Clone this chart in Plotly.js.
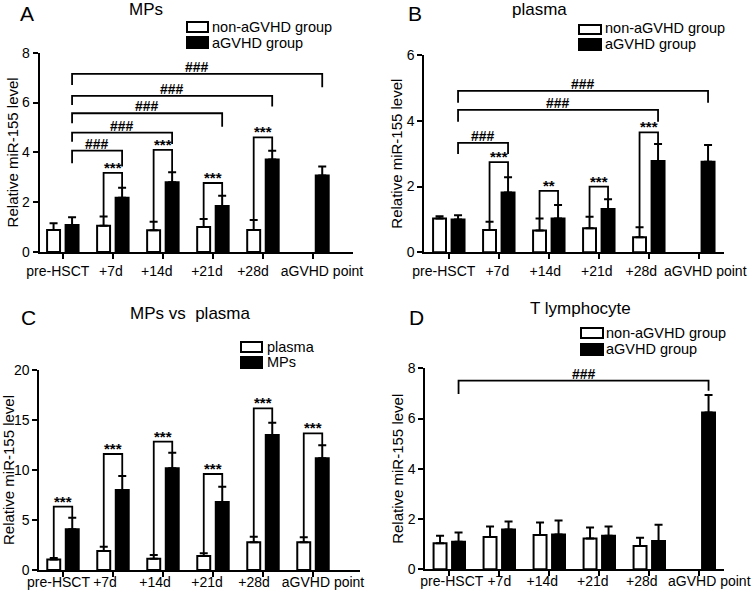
<!DOCTYPE html>
<html><head><meta charset="utf-8">
<script src="https://cdn.plot.ly/plotly-3.0.1.min.js"></script>
<style>html,body{margin:0;padding:0;background:#fff}#chart{width:753px;height:592px}</style>
</head><body><div id="chart"></div>
<script>
// ---------- DATA ----------
const categories = ['pre-HSCT', '+7d', '+14d', '+21d', '+28d', 'aGVHD point'];

// Panel A: MPs
const mpsNon = [0.88, 1.05, 0.87, 1.00, 0.88, null];
const mpsNonErr = [0.27, 0.37, 0.34, 0.32, 0.40, null];
const mpsAg = [1.08, 2.18, 2.80, 1.85, 3.71, 3.07];
const mpsAgErr = [0.31, 0.40, 0.40, 0.41, 0.35, 0.36];
const mpsStarCats = [1, 2, 3, 4];
const mpsStarTops = [3.18, 4.10, 2.77, 4.60];
const mpsStarLabels = ['***', '***', '***', '***'];
const mpsHashCats = [1, 2, 3, 4, 5];
const mpsHashTops = [4.07, 4.79, 5.57, 6.27, 7.15];
const mpsHashLeftBottoms = [3.56, 4.43, 5.17, 5.90, 6.70];
const mpsHashRightBottoms = [3.43, 4.34, 5.03, 5.84, 6.61];

// Panel B: plasma
const plaNon = [1.03, 0.68, 0.66, 0.73, 0.46, null];
const plaNonErr = [0.07, 0.25, 0.37, 0.35, 0.30, null];
const plaAg = [1.00, 1.82, 1.03, 1.32, 2.78, 2.75];
const plaAgErr = [0.13, 0.46, 0.41, 0.29, 0.51, 0.51];
const plaStarCats = [1, 2, 3, 4];
const plaStarTops = [2.74, 1.87, 2.00, 3.65];
const plaStarLabels = ['***', '**', '***', '***'];
const plaHashCats = [1, 4, 5];
const plaHashTops = [3.33, 4.33, 4.91];
const plaHashLeftBottoms = [2.99, 3.97, 4.55];
const plaHashRightBottoms = [2.99, 3.97, 4.55];

// Panel C: MPs vs plasma
const cmpPlasma = [1.05, 1.90, 1.13, 1.40, 2.77, 2.77];
const cmpPlasmaErr = [0.15, 0.43, 0.37, 0.27, 0.56, 0.50];
const cmpMPs = [4.07, 8.00, 10.17, 6.80, 13.50, 11.17];
const cmpMPsErr = [1.16, 1.40, 1.56, 1.53, 1.23, 1.30];
const cmpStarCats = [0, 1, 2, 3, 4, 5];
const cmpStarTops = [6.33, 11.60, 12.83, 9.60, 16.17, 13.67];
const cmpStarLabels = ['***', '***', '***', '***', '***', '***'];

// Panel D: T lymphocyte
const tNon = [1.04, 1.29, 1.37, 1.23, 0.93, null];
const tNonErr = [0.30, 0.41, 0.49, 0.43, 0.33, null];
const tAg = [1.10, 1.58, 1.39, 1.34, 1.13, 6.24];
const tAgErr = [0.36, 0.32, 0.55, 0.36, 0.64, 0.70];
const tHashCats = [5];
const tHashTops = [7.51];
const tHashLeftBottoms = [6.98];
const tHashRightBottoms = [7.11];

const groupLabels = ['non-aGVHD group', 'aGVHD group'];
const cmpLabels = ['plasma', 'MPs'];
const yTitle = 'Relative miR-155 level';

// ---------- LAYOUT ----------
const W = 753, H = 592;
const FONT = 'Arial, "Liberation Sans", sans-serif';
const BARGAP = 0.26, BARGROUPGAP = 0.3;
const OFF = (1 - BARGAP) / 4;
const fx = p => p / W;
const fy = p => 1 - p / H;

const panels = [
  {s: '', non: mpsNon, nonErr: mpsNonErr, ag: mpsAg, agErr: mpsAgErr, names: groupLabels,
   starCats: mpsStarCats, starTops: mpsStarTops, starLabels: mpsStarLabels,
   hashCats: mpsHashCats, hashTops: mpsHashTops, hashL: mpsHashLeftBottoms, hashR: mpsHashRightBottoms,
   xdom: [39.5, 353], ydom: [252, 52.7], xr: [-0.466, 5.80], yr: [0, 8], dtick: 2,
   labShift: [-0.1, -0.04, -0.12, -0.12, -0.2, 0.18], labStandoff: 5,
   title: 'MPs', titlePos: [146, 10], letter: 'A', letterPos: [27, 0],
   leg: {box: [187, 208, 22, 32, 37, 48], tx: 210, ty: [27, 43]}},
  {s: '2', non: plaNon, nonErr: plaNonErr, ag: plaAg, agErr: plaAgErr, names: groupLabels,
   starCats: plaStarCats, starTops: plaStarTops, starLabels: plaStarLabels,
   hashCats: plaHashCats, hashTops: plaHashTops, hashL: plaHashLeftBottoms, hashR: plaHashRightBottoms,
   xdom: [424.3, 724.3], ydom: [252.3, 55], xr: [-0.49, 5.51], yr: [0, 6], dtick: 2,
   labShift: [-0.1, -0.03, -0.07, -0.04, -0.15, 0.13], labStandoff: 5,
   title: 'plasma', titlePos: [539, 9], letter: 'B', letterPos: [415, 0],
   leg: {box: [579, 601, 25, 34, 39, 50], tx: 603, ty: [28, 44]}},
  {s: '3', non: cmpPlasma, nonErr: cmpPlasmaErr, ag: cmpMPs, agErr: cmpMPsErr, names: cmpLabels,
   starCats: cmpStarCats, starTops: cmpStarTops, starLabels: cmpStarLabels,
   hashCats: [], hashTops: [], hashL: [], hashR: [],
   xdom: [39.3, 360], ydom: [570, 370], xr: [-0.474, 5.94], yr: [0, 20], dtick: 5,
   labShift: [-0.09, -0.16, -0.16, -0.12, -0.18, 0.2], labStandoff: -2,
   title: 'MPs vs  plasma', titlePos: [190, 313], letter: 'C', letterPos: [28, 304],
   leg: {box: [241, 262, 342, 352, 357, 368], tx: 265, ty: [347, 362]}},
  {s: '4', non: tNon, nonErr: tNonErr, ag: tAg, agErr: tAgErr, names: groupLabels,
   starCats: [], starTops: [], starLabels: [],
   hashCats: tHashCats, hashTops: tHashTops, hashL: tHashLeftBottoms, hashR: tHashRightBottoms,
   xdom: [425.3, 724.3], ydom: [569.3, 368.3], xr: [-0.48, 5.5], yr: [0, 8], dtick: 2,
   labShift: [0.05, 0, -0.14, -0.13, -0.15, 0.2], labStandoff: -2,
   title: 'T lymphocyte', titlePos: [580, 308], letter: 'D', letterPos: [417, 304],
   leg: {box: [581, 603, 328, 338, 344, 355], tx: 604, ty: [333, 349]}}
];

const xs = categories.map((c, i) => i);
const traces = [];
const shapes = [];
const annotations = [];
const layout = {
  width: W, height: H, margin: {l: 0, r: 0, t: 0, b: 0},
  paper_bgcolor: 'white', plot_bgcolor: 'white',
  barmode: 'group', bargap: BARGAP, bargroupgap: BARGROUPGAP,
  showlegend: false, font: {family: FONT, color: 'black', size: 14}
};

panels.forEach(p => {
  const xa = 'x' + p.s, ya = 'y' + p.s;
  const errStyle = (arr) => ({type: 'data', array: arr, arrayminus: arr.map(() => 0), symmetric: false,
                              visible: true, color: 'black', thickness: 2, width: 4});
  traces.push({type: 'bar', x: xs, y: p.non, name: p.names[0], xaxis: xa, yaxis: ya,
    marker: {color: 'white', line: {color: 'black', width: 2}}, error_y: errStyle(p.nonErr), hoverinfo: 'skip'});
  traces.push({type: 'bar', x: xs, y: p.ag, name: p.names[1], xaxis: xa, yaxis: ya,
    marker: {color: 'black', line: {color: 'black', width: 2}}, error_y: errStyle(p.agErr), hoverinfo: 'skip'});

  // x axis: category names placed as in the original figure; tick marks (minor) at category centres
  layout['xaxis' + p.s] = {
    domain: [fx(p.xdom[0]), fx(p.xdom[1])], range: p.xr, anchor: ya,
    tickmode: 'array', tickvals: xs.map(i => i + p.labShift[i]), ticktext: categories, tickangle: 0,
    ticks: '', ticklabelstandoff: p.labStandoff,
    minor: {tickmode: 'array', tickvals: xs, ticks: 'outside', ticklen: 5, tickwidth: 2, tickcolor: 'black', showgrid: false},
    tickfont: {size: 14, family: FONT, color: 'black'},
    showline: true, linewidth: 2, linecolor: 'black', showgrid: false, zeroline: false, fixedrange: true
  };
  layout['yaxis' + p.s] = {
    domain: [fy(p.ydom[0]), fy(p.ydom[1])], range: p.yr, anchor: xa, dtick: p.dtick, tick0: 0,
    ticks: 'outside', ticklen: 5, tickwidth: 2, tickcolor: 'black',
    showline: true, linewidth: 2, linecolor: 'black', showgrid: false, zeroline: false,
    tickfont: {size: 14, family: FONT, color: 'black'},
    title: {text: yTitle, font: {size: 15, family: FONT, color: 'black'}, standoff: 0}, fixedrange: true
  };

  // significance brackets (non vs aGVHD, same timepoint)
  p.starCats.forEach((c, i) => {
    const x1 = c - OFF, x2 = c + OFF;
    const yl = p.non[c] + p.nonErr[c], yr = p.ag[c] + p.agErr[c], top = p.starTops[i];
    shapes.push({type: 'path', xref: xa, yref: ya,
      path: `M ${x1},${yl} L ${x1},${top} L ${x2},${top} L ${x2},${yr}`,
      line: {color: 'black', width: 1.8}});
    annotations.push({xref: xa, yref: ya, x: c, y: top, text: '<b>' + p.starLabels[i] + '</b>',
      showarrow: false, yanchor: 'bottom', yshift: -5, font: {size: 15, family: FONT, color: 'black'}});
  });
  // brackets vs pre-HSCT
  p.hashCats.forEach((c, i) => {
    const x1 = 0 + OFF, x2 = c + OFF, top = p.hashTops[i];
    shapes.push({type: 'path', xref: xa, yref: ya,
      path: `M ${x1},${p.hashL[i]} L ${x1},${top} L ${x2},${top} L ${x2},${p.hashR[i]}`,
      line: {color: 'black', width: 1.8}});
    annotations.push({xref: xa, yref: ya, x: (x1 + x2) / 2, y: top, text: '<b>###</b>',
      showarrow: false, yanchor: 'bottom', yshift: -3, font: {size: 14, family: FONT, color: 'black'}});
  });

  // titles
  annotations.push({xref: 'paper', yref: 'paper', x: fx(p.titlePos[0]), y: fy(p.titlePos[1]), text: p.title,
    showarrow: false, xanchor: 'center', yanchor: 'middle', font: {size: 17, family: FONT, color: 'black'}});
  annotations.push({xref: 'paper', yref: 'paper', x: fx(p.letterPos[0]), y: fy(p.letterPos[1]), text: p.letter,
    showarrow: false, xanchor: 'center', yanchor: 'top', font: {size: 21, family: FONT, color: 'black'}});

  // legend (drawn)
  const b = p.leg.box;
  shapes.push({type: 'rect', xref: 'paper', yref: 'paper', x0: fx(b[0]), x1: fx(b[1]), y0: fy(b[3]), y1: fy(b[2]),
    fillcolor: 'white', line: {color: 'black', width: 2}});
  shapes.push({type: 'rect', xref: 'paper', yref: 'paper', x0: fx(b[0]), x1: fx(b[1]), y0: fy(b[5]), y1: fy(b[4]),
    fillcolor: 'black', line: {color: 'black', width: 2}});
  p.names.forEach((n, i) => {
    annotations.push({xref: 'paper', yref: 'paper', x: fx(p.leg.tx), y: fy(p.leg.ty[i]), text: n,
      showarrow: false, xanchor: 'left', yanchor: 'middle', font: {size: 14.5, family: FONT, color: 'black'}});
  });
});

layout.shapes = shapes;
layout.annotations = annotations;
Plotly.newPlot('chart', traces, layout, {staticPlot: true, displayModeBar: false});
</script></body></html>
